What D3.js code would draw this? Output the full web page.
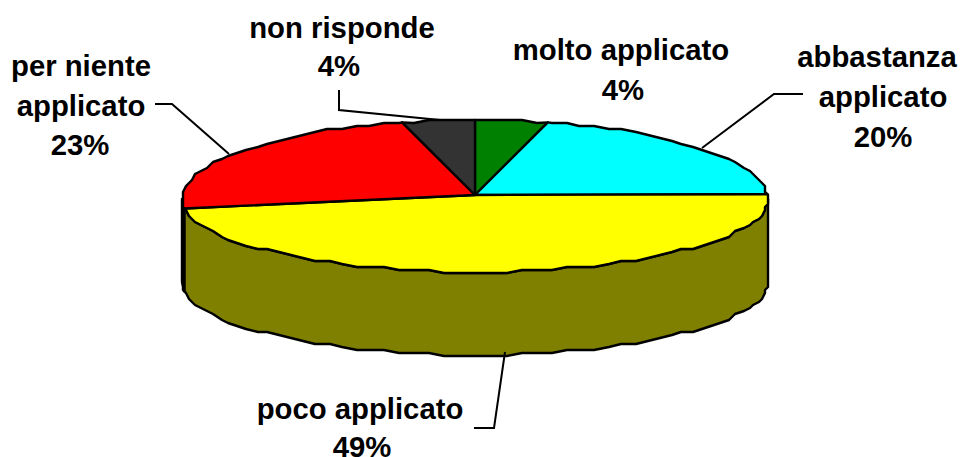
<!DOCTYPE html>
<html lang="en">
<head>
<meta charset="UTF-8">
<title>pie 3d</title>
<script src="https://d3js.org/d3.v7.min.js"></script>
<style>
    html,body{margin:0;padding:0;background:#fff;overflow:hidden;}
    svg{display:block;}
    text{font-family:"Liberation Sans",Arial,sans-serif;font-weight:bold;font-size:29.3px;fill:#000;text-anchor:middle;}
</style>
</head>
<body>
<div id="fig"></div>
<script>
    const categories = ["molto applicato","abbastanza applicato","poco applicato","per niente applicato","non risponde"]
    const values = [4,20,49,23,4]
    const topColors = ["#008000","#00ffff","#ffff00","#ff0000","#333333"]
    const wallColors = ["#004000","#008080","#808000","#800000","#1a1a1a"]

    // label lines and leader lines, one entry per category
    const labelLines = [
        [["molto applicato",621,60],["4%",623,100]],
        [["abbastanza",877,67],["applicato",883,107],["20%",883,147]],
        [["poco applicato",360,419],["49%",362,457]],
        [["per niente",81,76],["applicato",81,116],["23%",80,155]],
        [["non risponde",342,38],["4%",339,76]]
    ]
    const leaders = [
        null,
        [[803,94],[774,94],[702,148]],
        [[474,428],[494,428],[505,352]],
        [[155,104],[172,104],[229,154]],
        [[339,90],[339,110],[440,120]]
    ]

    const w = 960, h = 457
    const depth = 83
    const svg = d3.select("#fig").append("svg").attr("width",w).attr("height",h)

    const xScale = d3.scaleLinear().domain([-1,1]).range([182,768])
    const yScale = d3.scaleLinear().domain([-1,1]).range([272,120])
    const cx = xScale(0), cy = 195

    // the original curve is stepped, so snap points on a small grid
    const snap = (v,g) => Math.round(v/g)*g
    const STEP = Math.PI/60
    function rimPoint(a,snapped){
        // sides of the disc sit a bit lower than a true ellipse
        let x = xScale(Math.sin(a)), y = yScale(Math.cos(a))+3*Math.pow(Math.sin(a),4)
        return snapped ? [snap(x,3),snap(y,3)] : [x,y]
    }
    // fixed angle grid so wall and top face share the same rim
    function rim(a0,a1,dy){
        let pts = [rimPoint(a0,false)]
        for(let k=Math.floor(a0/STEP)+1;k*STEP<a1;k++){
            pts.push(rimPoint(k*STEP,true))
        }
        pts.push(rimPoint(a1,false))
        return pts.map(p=>[p[0],p[1]+dy])
    }
    const line = d3.line()

    const arcs = d3.pie().sort(null).value(d=>d)(values)

    // walls, only the part facing the viewer
    arcs.forEach(function(d,i){
        let a0 = Math.max(d.startAngle,Math.PI/2)
        let a1 = Math.min(d.endAngle,Math.PI*1.5)
        if(a1<=a0) return
        let top = rim(a0,a1,0), bottom = rim(a0,a1,depth).reverse()
        svg.append("path").attr("d",line(top.concat(bottom))+"Z")
            .attr("fill",wallColors[i]).attr("stroke","#000").attr("stroke-width",2.4)
            .attr("stroke-linejoin","round")
    })

    // top face
    arcs.forEach(function(d,i){
        let pts = [[cx,cy]].concat(rim(d.startAngle,d.endAngle,0))
        svg.append("path").attr("class","slice").attr("d",line(pts)+"Z")
            .attr("fill",topColors[i]).attr("stroke","#000").attr("stroke-width",2.4)
            .attr("stroke-linejoin","round")
    })

    leaders.forEach(function(l){
        if(!l) return
        svg.append("path").attr("d",line(l)).attr("fill","none").attr("stroke","#000").attr("stroke-width",2)
    })

    labelLines.forEach(function(lines){
        lines.forEach(function(t){
            svg.append("text").attr("x",t[1]).attr("y",t[2]).text(t[0])
        })
    })
</script>
</body>
</html>
